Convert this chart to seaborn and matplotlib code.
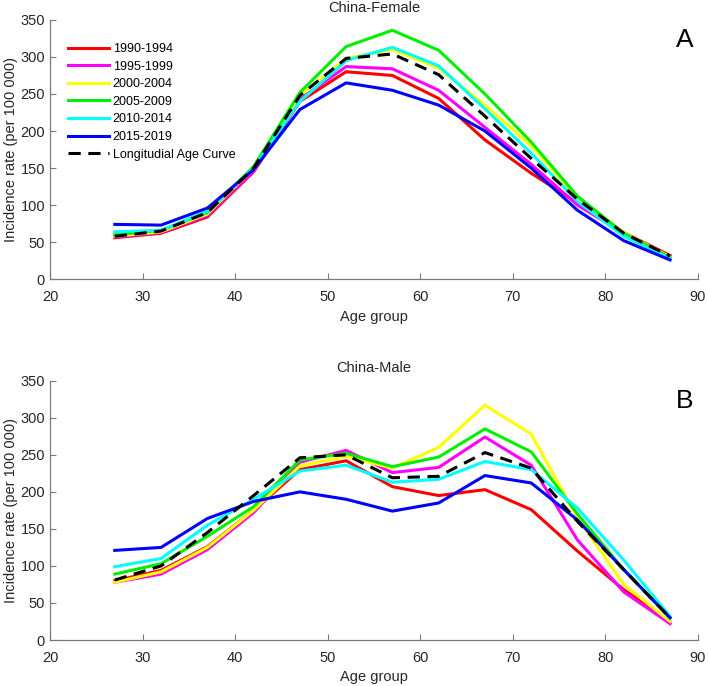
import numpy as np
import pandas as pd
import matplotlib
matplotlib.use("Agg")
import matplotlib.pyplot as plt
import seaborn as sns

ages = [27, 32, 37, 42, 47, 52, 57, 62, 67, 72, 77, 82, 87]
periods = ["1990-1994", "1995-1999", "2000-2004", "2005-2009", "2010-2014", "2015-2019"]
colors = ["#ff0000", "#ff00ff", "#ffff00", "#00ee00", "#00ffff", "#0000ff"]

female_1990 = [56, 62, 84, 145, 240, 280, 275, 244, 188, 143, 103, 63, 32]
female_1995 = [57, 63, 86, 146, 243, 287, 284, 255, 205, 155, 100, 62, 30]
female_2000 = [58, 64, 88, 150, 248, 298, 310, 285, 235, 180, 110, 63, 30]
female_2005 = [60, 66, 90, 152, 252, 314, 336, 309, 250, 185, 112, 62, 29]
female_2010 = [64, 66, 92, 150, 240, 295, 313, 288, 230, 170, 105, 58, 28]
female_2015 = [74, 73, 96, 148, 229, 265, 255, 235, 200, 150, 93, 52, 26]
female_lac = [58, 65, 90, 150, 248, 298, 304, 276, 220, 163, 108, 62, 31]

male_1990 = [80, 94, 126, 175, 230, 242, 207, 195, 203, 176, 120, 68, 25]
male_1995 = [78, 89, 122, 172, 240, 256, 226, 233, 274, 236, 135, 65, 22]
male_2000 = [78, 92, 125, 175, 235, 248, 232, 260, 317, 278, 165, 75, 25]
male_2005 = [89, 103, 140, 180, 243, 252, 234, 247, 285, 254, 170, 95, 30]
male_2010 = [99, 110, 155, 190, 228, 236, 213, 217, 241, 230, 178, 108, 32]
male_2015 = [121, 125, 164, 187, 200, 190, 174, 185, 222, 212, 162, 95, 30]
male_lac = [81, 100, 145, 195, 246, 250, 219, 221, 253, 232, 160, 95, 30]

female = [female_1990, female_1995, female_2000, female_2005, female_2010, female_2015]
male = [male_1990, male_1995, male_2000, male_2005, male_2010, male_2015]

plt.rcParams['font.family'] = ['Liberation Sans', 'DejaVu Sans']

fig = plt.figure(figsize=(7.08, 6.86), dpi=100)
ax1 = fig.add_axes([0.0706, 0.593, 0.915, 0.378])
ax2 = fig.add_axes([0.0706, 0.067, 0.915, 0.378])


def long_df(series):
    rows = []
    for p, vals in zip(periods, series):
        for a, v in zip(ages, vals):
            rows.append({"age": a, "rate": v, "period": p})
    return pd.DataFrame(rows)


for ax, series, lac, title, letter, show_leg in [
    (ax1, female, female_lac, "China-Female", "A", True),
    (ax2, male, male_lac, "China-Male", "B", False),
]:
    df = long_df(series)
    sns.lineplot(data=df, x="age", y="rate", hue="period", hue_order=periods,
                 palette=colors, linewidth=2.2, ax=ax, legend=False)
    sns.lineplot(x=ages, y=lac, color="black", linestyle=(0, (4, 2.5)),
                 linewidth=2.2, ax=ax, legend=False)
    ax.set_xlim(20, 90)
    ax.set_ylim(0, 350)
    ax.set_xticks(np.arange(20, 91, 10))
    ax.set_yticks(np.arange(0, 351, 50))
    for s in ["top", "right"]:
        ax.spines[s].set_visible(False)
    for s in ["left", "bottom"]:
        ax.spines[s].set_color("#7a7a7a")
        ax.spines[s].set_linewidth(0.9)
    ax.tick_params(direction="in", length=4, labelsize=10.5, color="#7a7a7a",
                   labelcolor="#262626")
    ax.tick_params(axis="x", pad=7.8)
    ax.set_xlabel("Age group", fontsize=10.5, color="#262626", labelpad=4)
    ax.set_ylabel("Incidence rate (per 100 000)", fontsize=10.5, color="#262626", labelpad=2)
    ax.set_title(title, fontsize=10.5, color="#262626", pad=6)
    ax.text(0.98, 0.923, letter, transform=ax.transAxes, fontsize=19,
            ha="center", va="center", color="black")
    if show_leg:
        handles = [plt.Line2D([], [], color=c, linewidth=2.2) for c in colors]
        handles.append(plt.Line2D([], [], color="black", linestyle=(0, (4, 2.5)), linewidth=2.2))
        labels = periods + ["Longitudial Age Curve"]
        ax.legend(handles, labels, loc="upper left", bbox_to_anchor=(0.014, 0.945),
                  frameon=False, fontsize=9, handlelength=3.3, handletextpad=0.3,
                  labelspacing=0.45, borderaxespad=0.3)

fig.savefig("out.png", dpi=100)
